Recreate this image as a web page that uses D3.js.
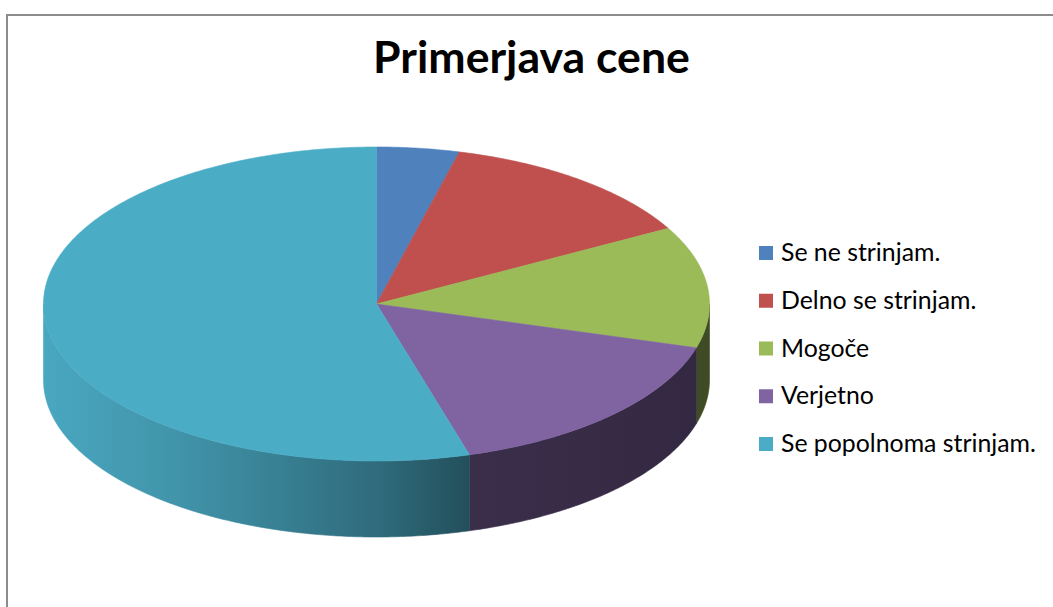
<!DOCTYPE html>
<html>
<head>
<meta charset="utf-8">
<script src="https://cdn.jsdelivr.net/npm/d3@7"></script>
<style>
  html, body { margin: 0; padding: 0; background: #fff; }
  svg { display: block; }
</style>
</head>
<body>
<div id="chart"></div>
<script>
// chart data
const title = "Primerjava cene"
const categories = ["Se ne strinjam.", "Delno se strinjam.", "Mogoče", "Verjetno", "Se popolnoma strinjam."]
const values = [4, 13, 12.5, 16, 54.5]
const colors = ["#4F81BD", "#C0504D", "#9BBB59", "#8064A2", "#4BACC6"]

const W = 1053, H = 607
const cx = 376.5, cy = 304, rx = 333, ry = 157, depth = 76

let svg = d3.select("#chart")
    .append("svg")
    .attr("width", W)
    .attr("height", H)

// frame of the chart area (runs off right / bottom)
svg.append("rect")
    .attr("x", 7)
    .attr("y", 15)
    .attr("width", W + 20)
    .attr("height", H + 20)
    .attr("fill", "#fff")
    .attr("stroke", "#8c8c8c")
    .attr("stroke-width", 2)

const pie = d3.pie().sort(null).value(d => d)
const arcs = pie(values)

const px = a => cx + rx * Math.sin(a)
const py = a => cy - ry * Math.cos(a)

function sample(a0, a1) {
    const n = Math.max(2, Math.ceil(Math.abs(a1 - a0) / 0.01))
    return d3.range(n + 1).map(i => a0 + (a1 - a0) * i / n)
}

const line = d3.line()

// side gradients, darker to the right
const defs = svg.append("defs")
const shadeStops = [[0, 0.97], [0.2, 0.86], [0.5, 0.63], [0.64, 0.46], [1, 0.40]]
colors.forEach(function(c, i) {
    let g = defs.append("linearGradient")
        .attr("id", "side" + i)
        .attr("gradientUnits", "userSpaceOnUse")
        .attr("x1", cx - rx).attr("x2", cx + rx)
        .attr("y1", 0).attr("y2", 0)
    const base = d3.rgb(c)
    shadeStops.forEach(function(s) {
        g.append("stop")
            .attr("offset", s[0])
            .attr("stop-color", d3.rgb(base.r * s[1], base.g * s[1], base.b * s[1]).formatHex())
    })
})

// outer walls, front half only
arcs.forEach(function(d, i) {
    const s0 = Math.max(d.startAngle, Math.PI / 2)
    const s1 = Math.min(d.endAngle, 3 * Math.PI / 2)
    if (s1 <= s0) return
    const top = sample(s0, s1).map(a => [px(a), py(a)])
    const bottom = sample(s1, s0).map(a => [px(a), py(a) + depth])
    svg.append("path")
        .attr("d", line(top.concat(bottom)) + "Z")
        .attr("fill", "url(#side" + i + ")")
        .attr("stroke", "url(#side" + i + ")")
        .attr("stroke-width", 0.6)
})

// top faces
arcs.forEach(function(d, i) {
    const pts = [[cx, cy]].concat(sample(d.startAngle, d.endAngle).map(a => [px(a), py(a)]))
    svg.append("path")
        .attr("d", line(pts) + "Z")
        .attr("fill", colors[i])
        .attr("stroke", colors[i])
        .attr("stroke-width", 0.6)
})

// title, fitted to the reference width
let t = svg.append("text")
    .attr("x", 531.5)
    .attr("y", 73)
    .attr("text-anchor", "middle")
    .style("font-family", "Lato, 'Open Sans', sans-serif")
    .style("font-weight", "bold")
    .style("font-size", "40px")
    .attr("fill", "#000")
    .text(title)
let tw = t.node().getComputedTextLength()
t.style("font-size", (40 * 317 / tw) + "px")

// legend
const legY = d3.scaleLinear().domain([0, categories.length - 1]).range([246, 437])
let leg = svg.append("g")
categories.forEach(function(c, i) {
    leg.append("rect")
        .attr("x", 759)
        .attr("y", legY(i))
        .attr("width", 14)
        .attr("height", 14)
        .attr("fill", colors[i])
    leg.append("text")
        .attr("class", "legend_text")
        .attr("x", 781)
        .attr("y", legY(i) + 15)
        .style("font-family", "Lato, 'Open Sans', sans-serif")
        .style("font-size", "20px")
        .attr("fill", "#000")
        .text(c)
})
// scale legend font so the longest label spans like the reference
const longest = leg.selectAll("text").nodes()[4].getComputedTextLength()
leg.selectAll("text").style("font-size", (20 * 255 / longest) + "px")
</script>
</body>
</html>
